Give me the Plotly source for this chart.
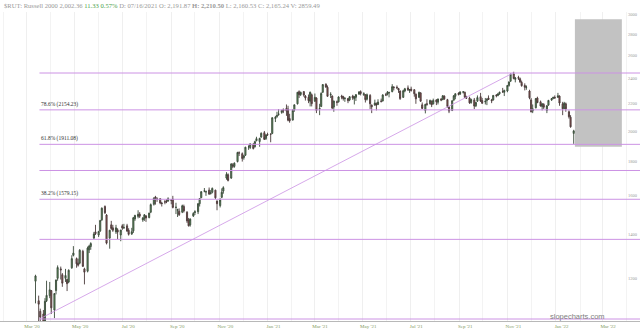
import plotly.graph_objects as go
import pandas as pd
import math

# ---- data: RUT two-day candles (open, high, low, close), Mar 2020 - Jan 2022 ----
ohlc_2020 = [
    # Mar
    (1188,1215,1100,1210),(1110,1130,1020,1097),(1070,1080,966,1049),(1060,1075,968,990),
    (1020,1120,1015,1108),(1110,1190,1105,1131),(1130,1185,1120,1153),
    # Apr
    (1150,1152,1060,1083),(1075,1140,1045,1138),(1150,1195,1135,1193),(1200,1255,1190,1246),
    (1240,1250,1195,1236),(1215,1222,1165,1180),(1200,1240,1185,1212),(1195,1198,1148,1178),
    (1185,1238,1180,1234),(1245,1300,1240,1285),(1300,1342,1295,1310),
    # May
    (1285,1290,1245,1262),(1265,1285,1250,1256),(1265,1328,1260,1323),(1318,1325,1248,1251),
    (1240,1245,1175,1226),(1230,1340,1225,1333),(1325,1348,1310,1342),(1340,1360,1325,1354),
    (1380,1410,1375,1400),(1410,1445,1395,1401),
    # Jun
    (1395,1415,1385,1412),(1415,1470,1410,1467),(1470,1535,1465,1531),(1540,1546,1500,1507),
    (1495,1500,1350,1356),(1380,1420,1330,1418),(1445,1465,1420,1427),(1430,1445,1410,1418),
    (1410,1445,1400,1430),(1420,1428,1375,1409),(1395,1420,1365,1419),
    # Jul
    (1440,1448,1420,1429),(1430,1450,1425,1431),(1440,1450,1410,1414),(1418,1428,1392,1398),
    (1400,1430,1395,1411),(1415,1485,1405,1481),(1475,1496,1465,1493),(1488,1520,1478,1499),
    (1500,1510,1480,1489),(1470,1485,1460,1479),(1478,1500,1465,1496),(1490,1495,1460,1480),
    # Aug
    (1482,1508,1478,1505),(1510,1556,1505,1550),(1552,1590,1545,1585),(1592,1598,1550,1585),
    (1580,1590,1565,1580),(1582,1585,1552,1559),(1558,1565,1540,1556),(1565,1575,1552,1564),
    (1568,1580,1558,1565),(1570,1590,1565,1582),
    # Sep
    (1575,1580,1552,1574),(1580,1598,1530,1535),(1535,1560,1500,1536),(1520,1528,1485,1523),
    (1515,1530,1490,1497),(1510,1550,1505,1544),(1540,1550,1508,1517),(1510,1515,1455,1465),
    (1470,1480,1437,1440),(1445,1478,1436,1474),(1490,1510,1485,1503),
    # Oct
    (1508,1520,1495,1512),(1512,1558,1500,1555),(1555,1585,1540,1583),(1588,1625,1585,1621),
    (1625,1642,1618,1625),(1620,1628,1598,1621),(1630,1645,1603,1608),(1612,1630,1605,1614),
    (1618,1645,1612,1640),(1630,1632,1580,1587),(1570,1572,1520,1555),
    # Nov
    (1545,1585,1535,1575),(1590,1640,1585,1618),(1625,1652,1610,1644),(1700,1735,1690,1722),
    (1720,1728,1680,1686),(1700,1790,1695,1785),(1780,1790,1760,1771),(1770,1795,1762,1790),
    (1800,1862,1795,1858),(1855,1865,1835,1855),(1850,1858,1800,1819),
    # Dec
    (1825,1842,1812,1836),(1840,1895,1835,1892),(1895,1905,1875,1895),(1890,1918,1880,1914),
    (1910,1920,1878,1883),(1895,1935,1890,1929),(1935,1962,1932,1949),(1930,1955,1895,1951),
    (1960,1992,1955,1986),(1990,2002,1960,1944),(1950,1980,1940,1974),
]

ohlc_2021_h1 = [
    # Jan
    (1978,1990,1968,1975),(1980,1985,1925,1979),(1985,2100,1980,2096),(2090,2110,2065,2099),
    (2105,2140,2095,2112),(2120,2160,2110,2124),(2135,2155,2125,2150),(2155,2165,2130,2146),
    (2165,2195,2110,2145),(2160,2185,2070,2078),(2090,2125,2060,2073),
    # Feb
    (2080,2160,2075,2150),(2155,2195,2140,2192),(2200,2292,2195,2290),(2295,2305,2245,2270),
    (2272,2295,2260,2289),(2295,2300,2255,2268),(2260,2268,2225,2245),(2250,2272,2205,2224),
    (2220,2295,2180,2290),(2270,2280,2180,2201),
    # Mar
    (2220,2280,2215,2250),(2245,2250,2130,2150),(2160,2200,2115,2164),(2180,2290,2175,2281),
    (2290,2356,2285,2352),(2355,2362,2325,2332),(2330,2345,2255,2258),(2270,2290,2245,2273),
    (2260,2265,2160,2168),(2175,2225,2140,2221),(2215,2225,2185,2212),
    # Apr
    (2215,2258,2210,2253),(2260,2270,2235,2252),(2255,2262,2225,2241),(2240,2250,2215,2243),
    (2240,2245,2205,2224),(2230,2260,2220,2255),(2260,2270,2230,2245),(2240,2260,2195,2255),
    (2250,2275,2222,2271),(2275,2300,2270,2292),(2295,2305,2265,2280),
    # May
    (2270,2290,2262,2278),(2270,2275,2210,2232),(2235,2280,2225,2271),(2265,2275,2160,2200),
    (2190,2195,2130,2177),(2190,2232,2185,2206),(2200,2210,2150,2190),(2195,2235,2190,2213),
    (2220,2240,2210,2219),(2222,2275,2218,2268),(2270,2285,2260,2269),
    # Jun
    (2275,2300,2265,2289),(2285,2295,2250,2287),(2295,2355,2290,2335),(2330,2340,2305,2327),
    (2330,2345,2315,2326),(2320,2325,2285,2308),(2300,2305,2230,2240),(2250,2310,2245,2302),
    (2300,2325,2290,2318),(2325,2345,2300,2310),(2305,2315,2285,2311),
]

ohlc_2021_h2 = [
    # Jul
    (2315,2335,2295,2305),(2310,2315,2255,2278),(2275,2280,2200,2238),(2250,2295,2245,2289),
    (2285,2290,2215,2220),(2191.87,2210.50,2160.53,2165.24),(2150,2200,2128,2196),(2200,2235,2185,2196),
    (2200,2232,2195,2226),(2220,2225,2175,2193),(2200,2240,2195,2226),
    # Aug
    (2230,2235,2190,2215),(2212,2240,2195,2237),(2235,2245,2220,2229),(2232,2268,2228,2262),
    (2260,2265,2230,2238),(2232,2238,2170,2180),(2175,2180,2130,2145),(2150,2228,2145,2223),
    (2228,2268,2225,2262),(2258,2282,2235,2278),(2280,2290,2265,2274),
    # Sep
    (2275,2298,2270,2292),(2292,2300,2280,2292),(2290,2295,2245,2250),(2250,2262,2238,2243),
    (2245,2255,2200,2207),(2210,2240,2200,2233),(2230,2245,2160,2183),(2185,2215,2175,2210),
    (2220,2265,2215,2248),(2255,2285,2215,2220),(2225,2245,2200,2204),
    # Oct
    (2215,2245,2195,2219),(2225,2245,2190,2233),(2245,2265,2230,2233),(2230,2238,2205,2224),
    (2230,2268,2225,2265),(2268,2275,2250,2263),(2265,2285,2258,2276),(2278,2295,2270,2290),
    (2295,2325,2285,2294),(2290,2310,2260,2305),
    # Nov
    (2300,2348,2290,2345),(2345,2378,2335,2374),(2380,2445,2375,2437),(2440,2459,2395,2402),
    (2395,2415,2370,2405),(2410,2425,2390,2405),(2400,2410,2365,2375),(2370,2385,2335,2343),
    (2345,2362,2305,2330),(2330,2345,2310,2332),(2300,2310,2235,2246),
    # Dec
    (2230,2245,2135,2140),(2145,2195,2130,2162),(2170,2245,2165,2240),(2245,2255,2205,2209),
    (2215,2225,2180,2183),(2180,2205,2150,2200),(2195,2205,2160,2174),(2150,2190,2130,2185),
    (2190,2230,2185,2226),(2230,2245,2222,2240),(2242,2255,2235,2249),(2250,2265,2240,2245),
]

ohlc_2022 = [
    (2250,2285,2245,2262),(2260,2265,2185,2206),(2200,2215,2115,2162),(2165,2215,2160,2204),
    (2200,2210,2140,2162),(2140,2150,2090,2103),(2100,2115,2025,2031),(1985,2010,1914,2002.36),
]

# Fibonacci retracement (anchored low -> high)
fib_anchor_dates = ["2020-03-18", "2021-11-08"]
fib_pcts = ["0%", "23.6%", "38.2%", "50%", "61.8%", "78.6%", "100%"]
fib_values = [1041.87, 1373.81, 1579.15, 1745.12, 1911.08, 2154.23, 2448.36]
fib_labelled = ["38.2%", "61.8%", "78.6%"]

y_ticks = [1200, 1400, 1600, 1800, 2000, 2200, 2400, 2600, 2800, 3000]
x_ticks = ["2020-03-01", "2020-05-01", "2020-07-01", "2020-09-01", "2020-11-01",
           "2021-01-01", "2021-03-01", "2021-05-01", "2021-07-01", "2021-09-01",
           "2021-11-01", "2022-01-01", "2022-03-01"]
x_tick_text = ["Mar '20", "May '20", "Jul '20", "Sep '20", "Nov '20", "Jan '21", "Mar '21",
               "May '21", "Jul '21", "Sep '21", "Nov '21", "Jan '22", "Mar '22"]

box_dates = ["2022-01-25 12:00", "2022-03-26"]
box_values = [1895, 2950]

header = ("$RUT: Russell 2000 2,002.36 <span style='color:#4aa04a'>11.33 0.57%</span> "
          "D: 07/16/2021 O: 2,191.87 <b>H: 2,210.50</b> L: 2,160.53 C: 2,165.24 V: 2859.49")

x_range = ["2020-01-28", "2022-04-18"]
y_range = [3.0148, 3.4809]

# ---- build ----
rows = ohlc_2020 + ohlc_2021_h1 + ohlc_2021_h2 + ohlc_2022
n = len(rows)
dates = pd.bdate_range(end="2022-01-24", periods=2 * n - 1)[::2]
opens = [r[0] for r in rows]
highs = [r[1] for r in rows]
lows = [r[2] for r in rows]
closes = [r[3] for r in rows]

purple = "#cc92e4"
serif = "Liberation Serif, Times New Roman, serif"

fig = go.Figure()

# grey projection box
fig.add_trace(go.Scatter(
    x=[box_dates[0], box_dates[1], box_dates[1], box_dates[0], box_dates[0]],
    y=[box_values[0], box_values[0], box_values[1], box_values[1], box_values[0]],
    mode="lines", fill="toself", fillcolor="#c2c2c2", line=dict(width=0),
    hoverinfo="skip", showlegend=False))

# fib horizontal lines
for v in fib_values:
    fig.add_trace(go.Scatter(x=[fib_anchor_dates[0], x_range[1]], y=[v, v], mode="lines",
                             line=dict(color=purple, width=1), hoverinfo="skip",
                             showlegend=False))
# diagonal
fig.add_trace(go.Scatter(x=fib_anchor_dates, y=[fib_values[0], fib_values[-1]], mode="lines",
                         line=dict(color=purple, width=0.8), hoverinfo="skip",
                         showlegend=False))

fig.add_trace(go.Candlestick(
    x=dates, open=opens, high=highs, low=lows, close=closes,
    increasing=dict(line=dict(color="#3a4a3a", width=0.9), fillcolor="#5f9f5f"),
    decreasing=dict(line=dict(color="#4a3a3a", width=0.9), fillcolor="#9a5050"),
    whiskerwidth=0, showlegend=False))

annotations = []
for p, v in zip(fib_pcts, fib_values):
    if p in fib_labelled:
        annotations.append(dict(x=fib_anchor_dates[0], y=math.log10(v), xref="x", yref="y",
                                text=f"{p} ({v:.2f})", showarrow=False, xanchor="left",
                                yanchor="bottom", yshift=0,
                                font=dict(family=serif, size=5.5, color="#333")))
annotations.append(dict(x=0.003, y=1.0, xref="paper", yref="paper", yshift=7,
                        text=header, showarrow=False, xanchor="left", yanchor="middle",
                        font=dict(family=serif, size=6.6, color="#999")))
annotations.append(dict(x=607 / 640, y=(321 - 316) / 309, xref="paper", yref="paper",
                        text="slopecharts.com", showarrow=False, xanchor="right",
                        yanchor="middle",
                        font=dict(family="Liberation Sans, Arial", size=7.5, color="#808080")))

fig.update_layout(
    width=640, height=334, margin=dict(l=0, r=0, t=12, b=13),
    paper_bgcolor="white", plot_bgcolor="white", boxgap=0,
    annotations=annotations, showlegend=False,
    xaxis=dict(type="date", range=x_range, rangeslider=dict(visible=False),
               tickvals=x_ticks, ticktext=x_tick_text, ticklabelshift=6,
               tickfont=dict(family=serif, size=5, color="#7f9a60"),
               showgrid=True, gridcolor="#efefef", gridwidth=1,
               minor=dict(dtick="M1", tick0="2020-01-01", showgrid=True, gridcolor="#f3f3f3"),
               showline=True, linecolor="#b8b8b8", linewidth=1, ticks="", zeroline=False),
    yaxis=dict(type="log", range=y_range, side="right", tickvals=y_ticks,
               ticktext=[str(t) for t in y_ticks], ticklabelposition="inside",
               tickfont=dict(family=serif, size=4.5, color="#999"),
               showgrid=False, zeroline=False, showline=False, ticks=""),
)

fig.write_html("out.html")
